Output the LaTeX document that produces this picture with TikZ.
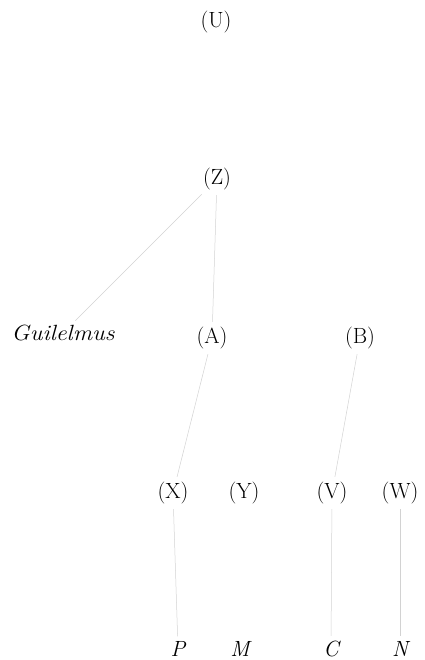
\documentclass[tikz,border=0pt]{standalone}
\begin{document}
\begin{tikzpicture}[x=1pt,y=-1pt,
  lbl/.style={font=\fontsize{22}{24}\selectfont, inner sep=2pt},
  ms/.style={font=\fontsize{22}{24}\selectfont\itshape, inner sep=2pt},
  conn/.style={draw=gray!35, line width=0.5pt, shorten <=3pt, shorten >=3pt}]
\useasboundingbox (0,0) rectangle (424,660);
\node[lbl] (U) at (216,22) {(U)};
\node[lbl] (Z) at (217,179) {(Z)};
\node[ms, xscale=1.1] (G) at (63,333) {Guilelmus};
\node[lbl] (A) at (212,338) {(A)};
\node[lbl] (B) at (360,338) {(B)};
\node[lbl] (X) at (173,493) {(X)};
\node[lbl] (Y) at (244,493) {(Y)};
\node[lbl] (V) at (332,493) {(V)};
\node[lbl] (W) at (400,493) {(W)};
\node[ms] (P) at (178,649) {P};
\node[ms] (M) at (240,649) {M};
\node[ms] (C) at (331,649) {C};
\node[ms] (N) at (400,649) {N};
\draw[conn] (Z) -- (G);
\draw[conn] (Z) -- (A);
\draw[conn] (A) -- (X);
\draw[conn] (B) -- (V);
\draw[conn] (X) -- (P);
\draw[conn] (V) -- (C);
\draw[conn] (W) -- (N);
\end{tikzpicture}
\end{document}
